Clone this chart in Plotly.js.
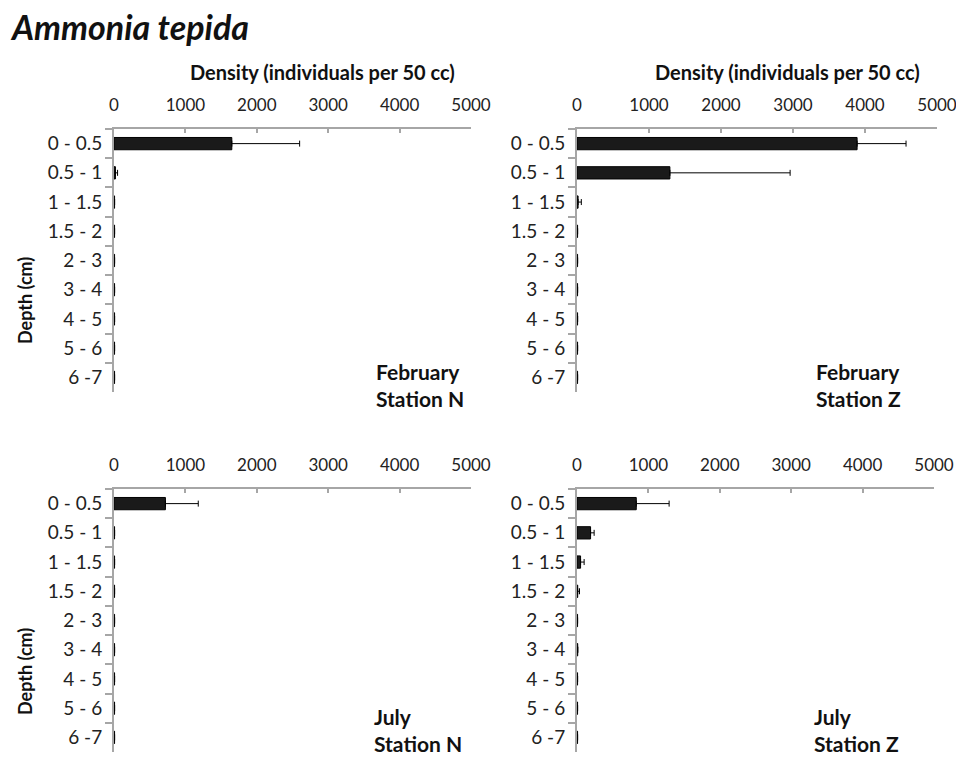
<!DOCTYPE html>
<html>
<head>
<meta charset="utf-8">
<script src="https://cdn.plot.ly/plotly-3.0.1.min.js"></script>
<style>html,body{margin:0;padding:0;background:#fff;}#chart{width:956px;height:758px;}</style>
</head>
<body>
<div id="chart"></div>
<script>
// Depth categories (cm)
const depths = ["0 - 0.5", "0.5 - 1", "1 - 1.5", "1.5 - 2", "2 - 3", "3 - 4", "4 - 5", "5 - 6", "6 -7"];

// Density (individuals per 50 cc) and error values
const febN = [1650, 20, 8, 8, 8, 8, 8, 8, 8];
const febNErr = [950, 30, 0, 0, 0, 0, 0, 0, 0];
const febZ = [3890, 1290, 15, 8, 8, 8, 8, 8, 8];
const febZErr = [680, 1670, 45, 0, 0, 0, 0, 0, 0];
const julN = [720, 8, 8, 8, 8, 8, 8, 8, 8];
const julNErr = [460, 0, 0, 0, 0, 0, 0, 0, 0];
const julZ = [830, 190, 50, 10, 8, 10, 8, 8, 8];
const julZErr = [460, 50, 50, 25, 0, 0, 0, 0, 0];

const xTicks = [0, 1000, 2000, 3000, 4000, 5000];
const panelLabels = ["February<br>Station N", "February<br>Station Z", "July<br>Station N", "July<br>Station Z"];

const W = 956, H = 758;
const px = v => v / W;
const py = v => 1 - v / H;
const FONT = "Lato, 'Open Sans', sans-serif";
const AXC = "#a6a6a6";

function barTrace(vals, errs, xa, ya) {
  return {
    type: "bar", orientation: "h",
    x: vals, y: depths, xaxis: xa, yaxis: ya,
    marker: {color: "#1a1a1a", line: {color: "#000", width: 1}},
    error_x: {type: "data", symmetric: false, array: errs, arrayminus: errs.map(() => 0),
      visible: true, color: "#000", thickness: 1, width: 3},
    hoverinfo: "skip", showlegend: false
  };
}

const data = [
  barTrace(febN, febNErr, "x", "y"),
  barTrace(febZ, febZErr, "x2", "y2"),
  barTrace(julN, julNErr, "x3", "y3"),
  barTrace(julZ, julZErr, "x4", "y4")
];

function xaxis(dom, anchor) {
  return {
    domain: dom, anchor: anchor, side: "top", range: [0, 5000],
    tickvals: xTicks, ticks: "inside", ticklen: 4, tickwidth: 2, tickcolor: AXC,
    showline: true, linecolor: AXC, linewidth: 2, showgrid: false, zeroline: false,
    tickfont: {family: FONT, size: 17, color: "#222"}, ticklabelstandoff: 9,
    ticklabeloverflow: "allow", fixedrange: true
  };
}
function yaxis(dom, anchor) {
  return {
    domain: dom, anchor: anchor, type: "category", autorange: "reversed",
    ticks: "outside", tickson: "boundaries", ticklen: 7, tickwidth: 2, tickcolor: AXC,
    showline: true, linecolor: AXC, linewidth: 2, showgrid: false, zeroline: false,
    tickfont: {family: FONT, size: 19, color: "#222"}, ticklabelstandoff: 6, fixedrange: true
  };
}

const xL = [px(114), px(471)], xR = [px(577), px(937)], xR2 = [px(577), px(934)];
const yT = [py(392), py(129)], yB = [py(752), py(489)];

const ann = [];
ann.push({text: "<b><i>Ammonia tepida</i></b>", xref: "paper", yref: "paper", x: px(8), y: py(26),
  xanchor: "left", yanchor: "middle", showarrow: false, font: {family: FONT, size: 34, color: "#111"}});
[[322, 72], [787, 72]].forEach(p => ann.push({text: "<b>Density (individuals per 50 cc)</b>", xref: "paper", yref: "paper",
  x: px(p[0]), y: py(p[1]), xanchor: "center", yanchor: "middle", showarrow: false, font: {family: FONT, size: 20, color: "#111"}}));
[301, 672].forEach(c => ann.push({text: "<b>Depth (cm)</b>", xref: "paper", yref: "paper", x: px(25), y: py(c),
  xanchor: "center", yanchor: "middle", textangle: -90, showarrow: false, font: {family: FONT, size: 18, color: "#111"}}));
const labPos = [[374, 385], [814, 385], [372, 730], [812, 730]];
panelLabels.forEach((t, i) => ann.push({text: "<b>" + t + "</b>", xref: "paper", yref: "paper",
  x: px(labPos[i][0]), y: py(labPos[i][1]), xanchor: "left", yanchor: "middle", align: "left",
  showarrow: false, font: {family: FONT, size: 21, color: "#111"}}));

const layout = {
  width: W, height: H, margin: {l: 0, r: 0, t: 0, b: 0},
  paper_bgcolor: "#fff", plot_bgcolor: "#fff", bargap: 0.58, showlegend: false,
  xaxis: xaxis(xL, "y"), yaxis: yaxis(yT, "x"),
  xaxis2: xaxis(xR, "y2"), yaxis2: yaxis(yT, "x2"),
  xaxis3: xaxis(xL, "y3"), yaxis3: yaxis(yB, "x3"),
  xaxis4: xaxis(xR2, "y4"), yaxis4: yaxis(yB, "x4"),
  annotations: ann
};

Plotly.newPlot("chart", data, layout, {staticPlot: true, displayModeBar: false});
</script>
</body>
</html>
